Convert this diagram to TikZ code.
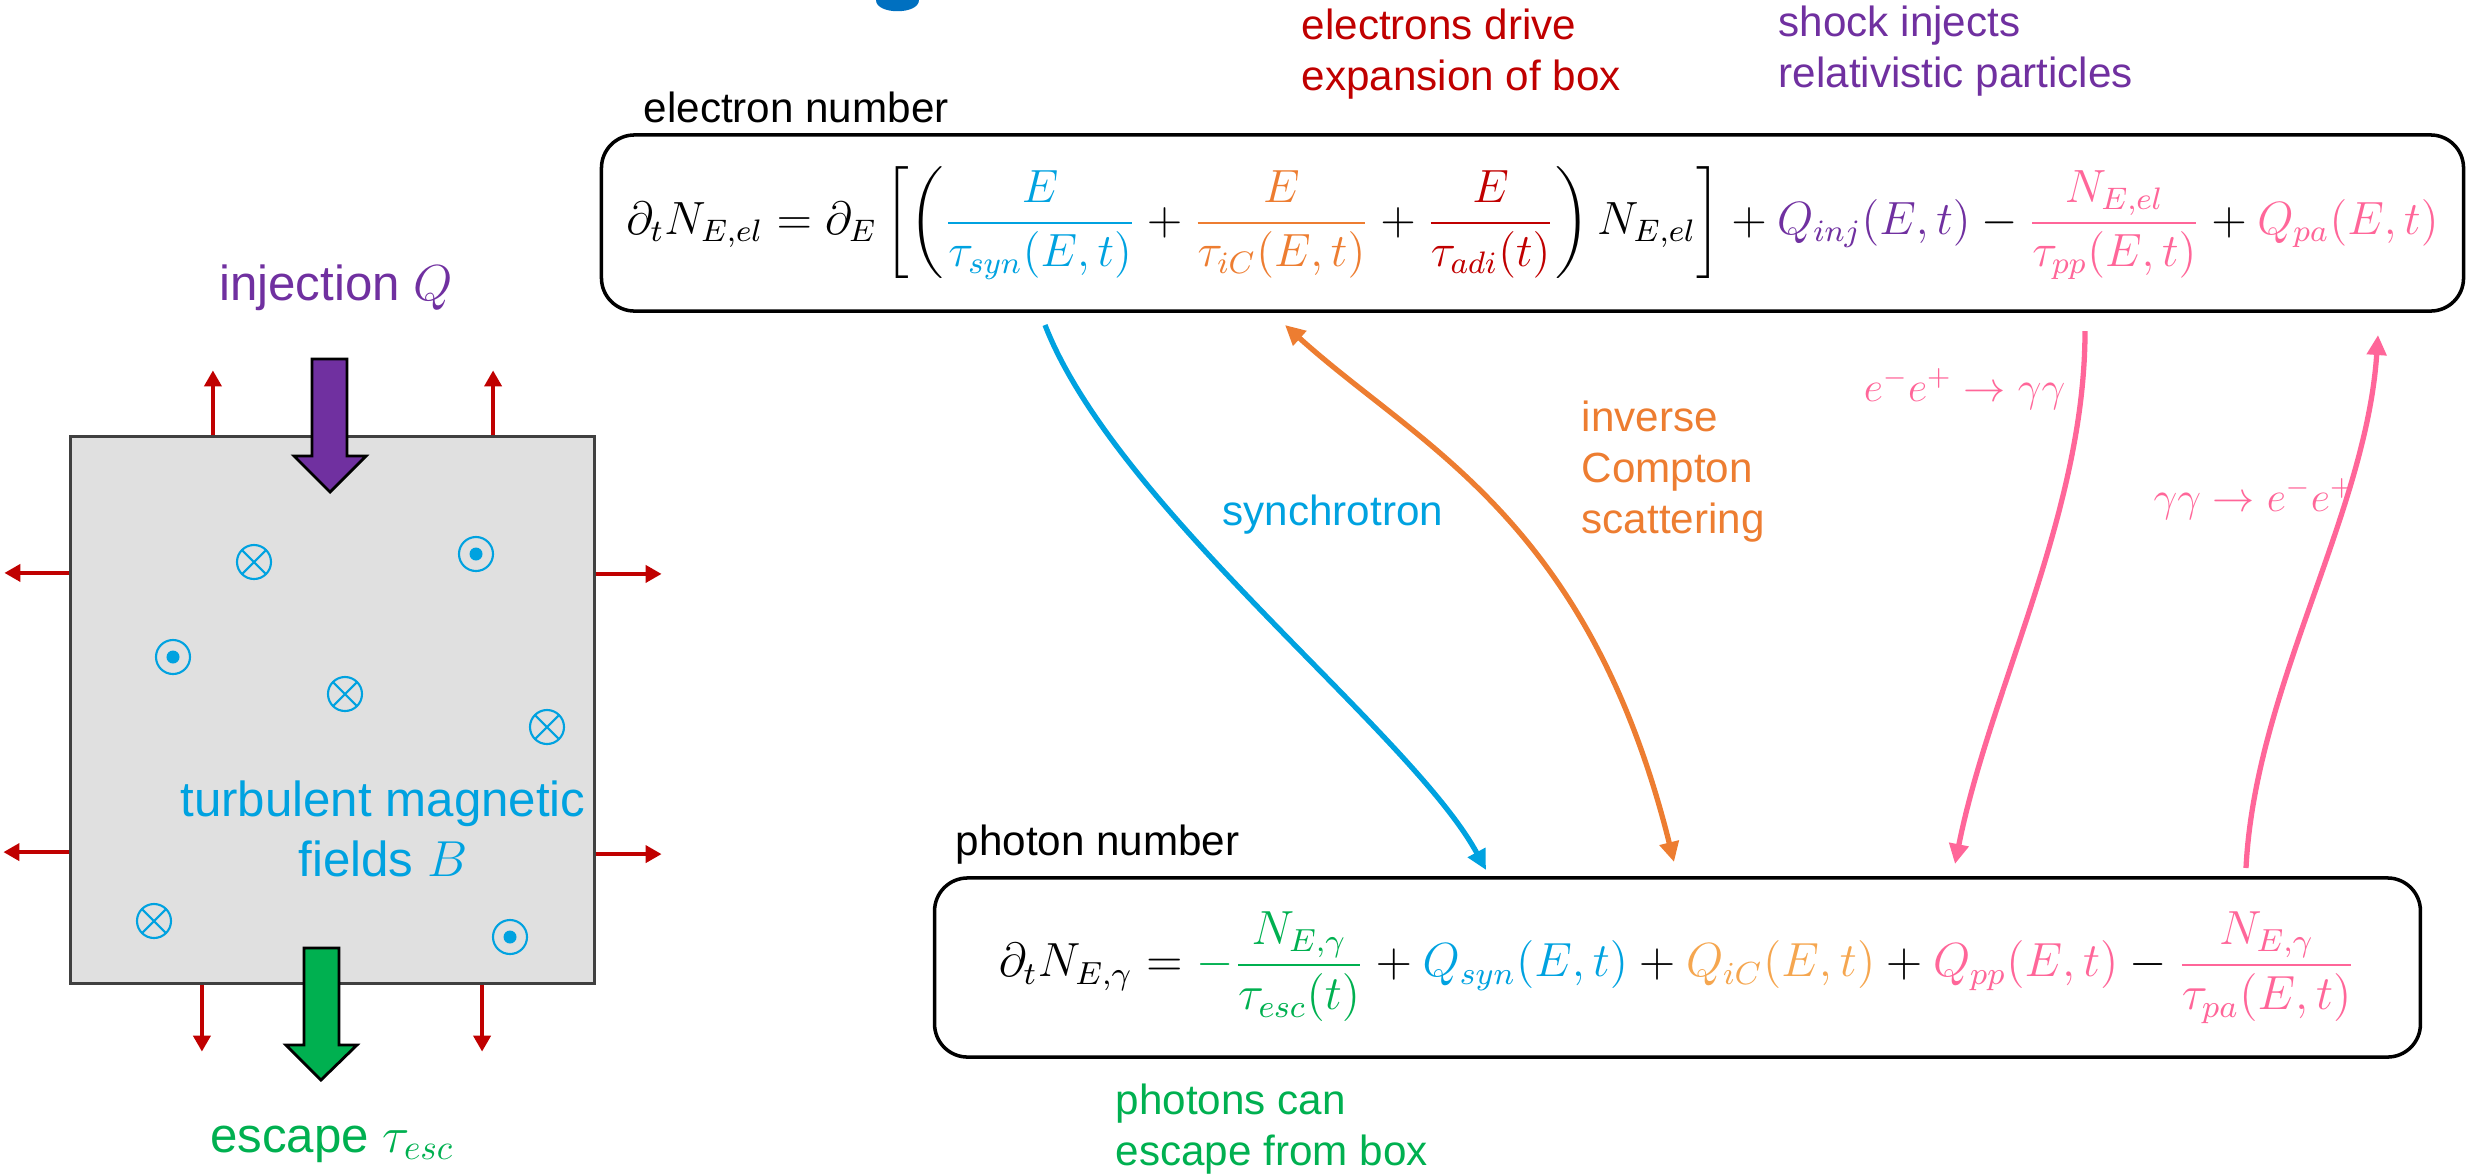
\documentclass[tikz,border=0pt]{standalone}
\usepackage{amsmath}
\usepackage{graphicx}
\usepackage{fontspec}
\setmainfont{Liberation Sans}
\usetikzlibrary{arrows.meta}

\definecolor{cbTitle}{HTML}{0070C0}
\definecolor{cbCyan}{HTML}{00A2E0}
\definecolor{cbOrange}{HTML}{ED7D31}
\definecolor{cbPeach}{HTML}{F5A64F}
\definecolor{cbDarkRed}{HTML}{C00000}
\definecolor{cbPurple}{HTML}{7030A0}
\definecolor{cbPink}{HTML}{FF6699}
\definecolor{cbGreen}{HTML}{00B050}
\definecolor{cbGray}{HTML}{E0E0E0}

\begin{document}
\begin{tikzpicture}[x=0.01cm, y=-0.01cm,
        every node/.style={font=\fontsize{12}{14.4}\selectfont, inner sep=0pt},
        bigtext/.style={font=\fontsize{14}{16.8}\selectfont},
        eqbox/.style={draw, line width=1pt, rounded corners=0.33cm},
        flow/.style={line width=1.5pt, >={Triangle[length=0.2cm, width=0.19cm]}},
        push/.style={cbDarkRed, line width=1.1pt,
            -{Triangle[length=0.16cm, width=0.17cm]}},
        fieldline/.style={cbCyan, line width=0.6pt}]
        \useasboundingbox (0,0) rectangle (2466,1175);

        % Resto do titulo cortado.
        \fill[cbTitle] (876,0) .. controls (876,15) and (919,15) .. (919,0) -- cycle;

        % Caixa com campo turbulento.
        \node[draw=black!75, line width=0.8pt, fill=cbGray,
            minimum width=5.23cm, minimum height=5.46cm] (cell) at (332.5,710) {};

        % Expansao da caixa.
        \draw[push] ([xshift=-1.195cm]cell.north) -- ++(0,0.65cm);
        \draw[push] ([xshift=1.605cm]cell.north) -- ++(0,0.65cm);
        \draw[push] ([yshift=1.37cm]cell.west) -- ++(-0.65cm,0);
        \draw[push] ([yshift=1.36cm]cell.east) -- ++(0.66cm,0);
        \draw[push] ([yshift=-1.42cm]cell.west) -- ++(-0.66cm,0);
        \draw[push] ([yshift=-1.44cm]cell.east) -- ++(0.66cm,0);
        \draw[push] ([xshift=-1.305cm]cell.south) -- ++(0,-0.67cm);
        \draw[push] ([xshift=1.495cm]cell.south) -- ++(0,-0.67cm);

        % Campo entrando na pagina.
        \draw[fieldline] (254,562) circle (0.17cm)
            +(-0.12cm,-0.12cm) -- +(0.12cm,0.12cm) +(-0.12cm,0.12cm) -- +(0.12cm,-0.12cm);
        \draw[fieldline] (345,694) circle (0.17cm)
            +(-0.12cm,-0.12cm) -- +(0.12cm,0.12cm) +(-0.12cm,0.12cm) -- +(0.12cm,-0.12cm);
        \draw[fieldline] (547,727) circle (0.17cm)
            +(-0.12cm,-0.12cm) -- +(0.12cm,0.12cm) +(-0.12cm,0.12cm) -- +(0.12cm,-0.12cm);
        \draw[fieldline] (154,921) circle (0.17cm)
            +(-0.12cm,-0.12cm) -- +(0.12cm,0.12cm) +(-0.12cm,0.12cm) -- +(0.12cm,-0.12cm);

        % Campo saindo da pagina.
        \draw[fieldline] (476,554) circle (0.17cm);
        \fill[cbCyan] (476,554) circle (0.065cm);
        \draw[fieldline] (173,657) circle (0.17cm);
        \fill[cbCyan] (173,657) circle (0.065cm);
        \draw[fieldline] (510,937) circle (0.17cm);
        \fill[cbCyan] (510,937) circle (0.065cm);

        % Injecao e escape.
        \draw[fill=cbPurple, line width=0.8pt] (312,359) -- (347,359) -- (347,456)
            -- (366,456) -- (330,492) -- (294,456) -- (312,456) -- cycle;
        \draw[fill=cbGreen, line width=0.8pt] (304,948) -- (339,948) -- (339,1045)
            -- (357,1045) -- (321,1080) -- (286,1045) -- (304,1045) -- cycle;

        \node[bigtext, cbPurple, anchor=base] (injlabel) at (336,300) {injection $Q$};
        \node[bigtext, cbCyan, align=center, anchor=base] (fieldlabel) at (383,876)
            {turbulent magnetic\\fields $B$};
        \node[bigtext, cbGreen, anchor=base] (esclabel) at (332,1152) {escape $\tau_{esc}$};

        % Numero de eletrons.
        \node[anchor=base west] (elnum) at (643,122) {electron number};
        \node[cbDarkRed, align=left, anchor=base west] (adilabel) at (1301,90)
            {electrons drive\\expansion of box};
        \node[cbPurple, align=left, anchor=base west] (shocklabel) at (1778,87)
            {shock injects\\relativistic particles};
        \node[eqbox, minimum width=18.61cm, minimum height=1.76cm] (elbox) at (1532.5,223)
            {\scalebox{1.105}{$\displaystyle \partial_t N_{E,el} = \partial_E \left[ \left(
            {\color{cbCyan}\frac{E}{\tau_{syn}(E,t)}}
            + {\color{cbOrange}\frac{E}{\tau_{iC}(E,t)}}
            + {\color{cbDarkRed}\frac{E}{\tau_{adi}(t)}} \right) N_{E,el} \right]
            + {\color{cbPurple}Q_{inj}(E,t)}
            - {\color{cbPink}\frac{N_{E,el}}{\tau_{pp}(E,t)}}
            + {\color{cbPink}Q_{pa}(E,t)}$}};

        % Numero de fotons.
        \node[anchor=base west] (phnum) at (955,855) {photon number};
        \node[eqbox, minimum width=14.85cm, minimum height=1.79cm] (phbox) at (1677.5,967.5)
            {\scalebox{1.136}{$\displaystyle \partial_t N_{E,\gamma} =
            {\color{cbGreen}-\frac{N_{E,\gamma}}{\tau_{esc}(t)}}
            + {\color{cbCyan}Q_{syn}(E,t)}
            + {\color{cbPeach}Q_{iC}(E,t)}
            + {\color{cbPink}Q_{pp}(E,t)}
            - {\color{cbPink}\frac{N_{E,\gamma}}{\tau_{pa}(E,t)}}$}};
        \node[cbGreen, align=left, anchor=base west] (esctext) at (1115,1165)
            {photons can\\escape from box};

        % Processos entre as duas equacoes.
        \coordinate (synA) at (1045,325);
        \coordinate (synB) at (1486,870);
        \coordinate (icA) at (1285,325);
        \coordinate (icB) at (1674,862);
        \coordinate (ppA) at (2085,331);
        \coordinate (ppB) at (1955,864);
        \coordinate (paA) at (2246,868);
        \coordinate (paB) at (2378,335);

        \draw[flow, cbCyan, ->] (synA) .. controls (1116,508) and (1412,733) .. (synB);
        \draw[flow, cbOrange, <->] (icA) .. controls (1420,447) and (1588,518) .. (icB);
        \draw[flow, cbPink, ->] (ppA) .. controls (2085,513) and (1990,689) .. (ppB);
        \draw[flow, cbPink, ->] (paA) .. controls (2255,688) and (2366,515) .. (paB);

        \node[cbCyan, anchor=base west] (synlabel) at (1222,525) {synchrotron};
        \node[cbOrange, align=left, anchor=base west] (iclabel) at (1581,533)
            {inverse\\Compton\\scattering};
        \node[cbPink, anchor=east] (pplabel) at (2066,389) {$e^-e^+\rightarrow\gamma\gamma$};
        \node[cbPink, anchor=west] (palabel) at (2153,499) {$\gamma\gamma\rightarrow e^-e^+$};
    \end{tikzpicture}
\end{document}
